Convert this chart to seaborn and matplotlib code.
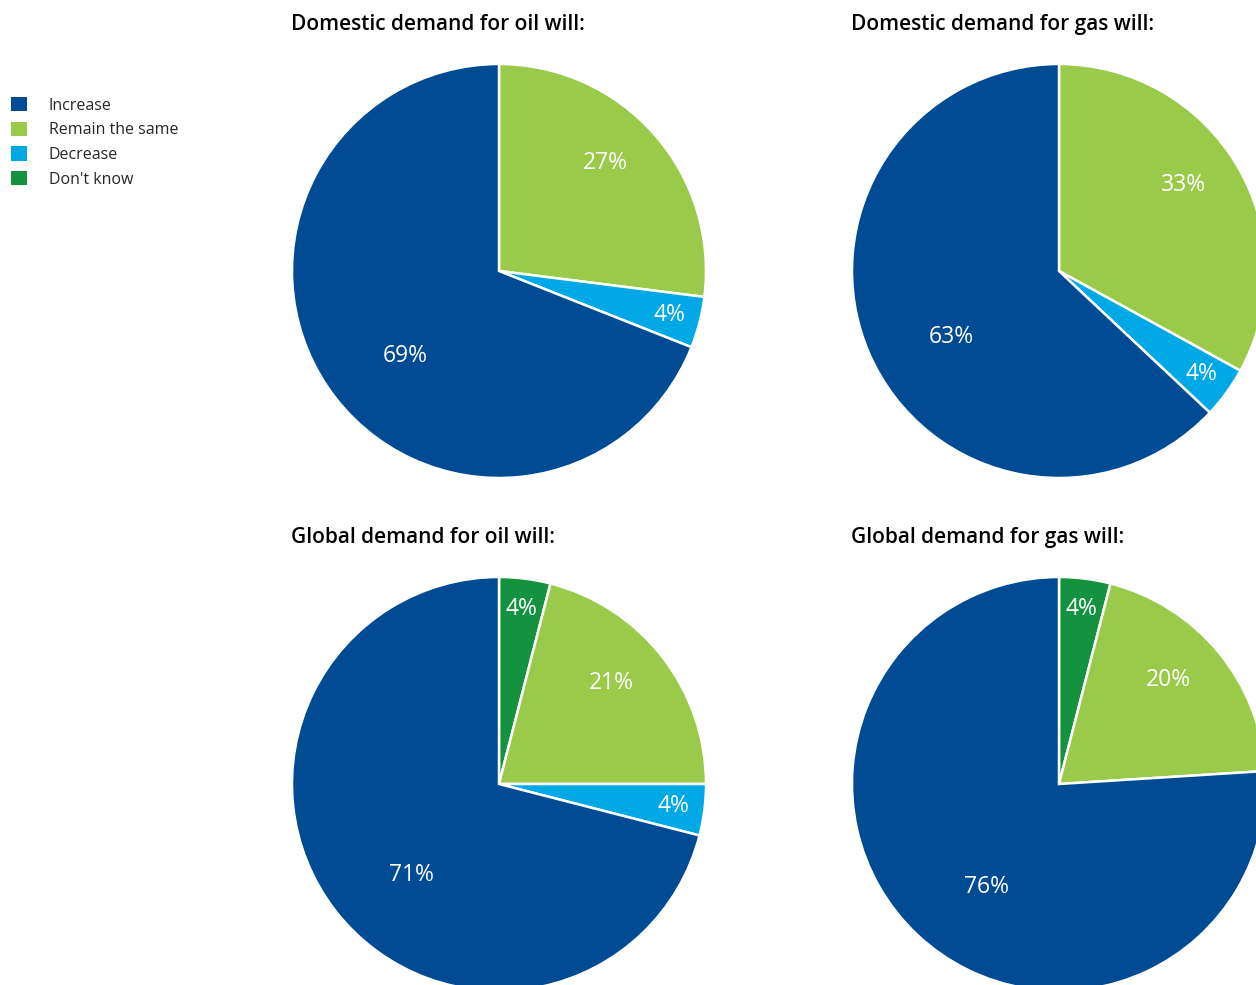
import numpy as np
import matplotlib
matplotlib.use("Agg")
import matplotlib.pyplot as plt
from matplotlib.patches import Patch
import seaborn as sns

categories = ["Increase", "Remain the same", "Decrease", "Don't know"]
colors = ["#004b93", "#9aca4a", "#00a9e6", "#15923f"]

titles = ["Domestic demand for oil will:", "Domestic demand for gas will:",
          "Global demand for oil will:", "Global demand for gas will:"]
dom_oil = [69, 27, 4, 0]
dom_gas = [63, 33, 4, 0]
glob_oil = [71, 21, 4, 4]
glob_gas = [76, 20, 0, 4]

# clockwise from 12 o'clock: don't know, remain, decrease, increase
slice_order = [3, 1, 2, 0]

sns.set_theme(style="white")
plt.rcParams["font.family"] = ["Open Sans", "DejaVu Sans"]

W, H = 1256, 985
fig = plt.figure(figsize=(W / 100, H / 100), dpi=100)

R = 207
centers = [(499, 271), (1059, 271), (499, 784), (1059, 784)]
title_pos = [(291, 14), (851, 14), (291, 527), (851, 527)]


def label_place(v):
    # (radius fraction, angular nudge in degrees) for the % labels
    if v < 10:
        return 0.85, 0
    if v < 40:
        return 0.73, 4
    return 0.61, 8


for vals, title, (cx, cy), (tx, ty) in zip([dom_oil, dom_gas, glob_oil, glob_gas],
                                           titles, centers, title_pos):
    ax = fig.add_axes([(cx - R) / W, (H - cy - R) / H, 2 * R / W, 2 * R / H])
    idx = [i for i in slice_order if vals[i] > 0]
    sizes = [vals[i] for i in idx]
    wedges, _ = ax.pie(sizes, colors=[colors[i] for i in idx], startangle=90,
                       counterclock=False,
                       wedgeprops=dict(edgecolor="white", linewidth=1.8))
    for w, v in zip(wedges, sizes):
        r, nudge = label_place(v)
        mid = np.deg2rad((w.theta1 + w.theta2) / 2 + nudge)
        ax.text(r * np.cos(mid), r * np.sin(mid), f"{v}%", color="white",
                fontsize=16.5, ha="center", va="center")
    ax.set_xlim(-1, 1)
    ax.set_ylim(-1, 1)
    ax.set_aspect("equal")
    ax.axis("off")
    fig.text(tx / W, 1 - ty / H, title, fontsize=15, fontweight="semibold",
             va="top", ha="left", color="black")

handles = [Patch(facecolor=c, edgecolor="none") for c in colors]
fig.legend(handles, categories, loc="upper left", bbox_to_anchor=(0.0, 1 - 86 / H),
           frameon=False, fontsize=11.5, handlelength=1.0, handleheight=1.0,
           handletextpad=1.35, labelspacing=0.5, borderaxespad=0.3)

fig.savefig("out.png", dpi=100)
